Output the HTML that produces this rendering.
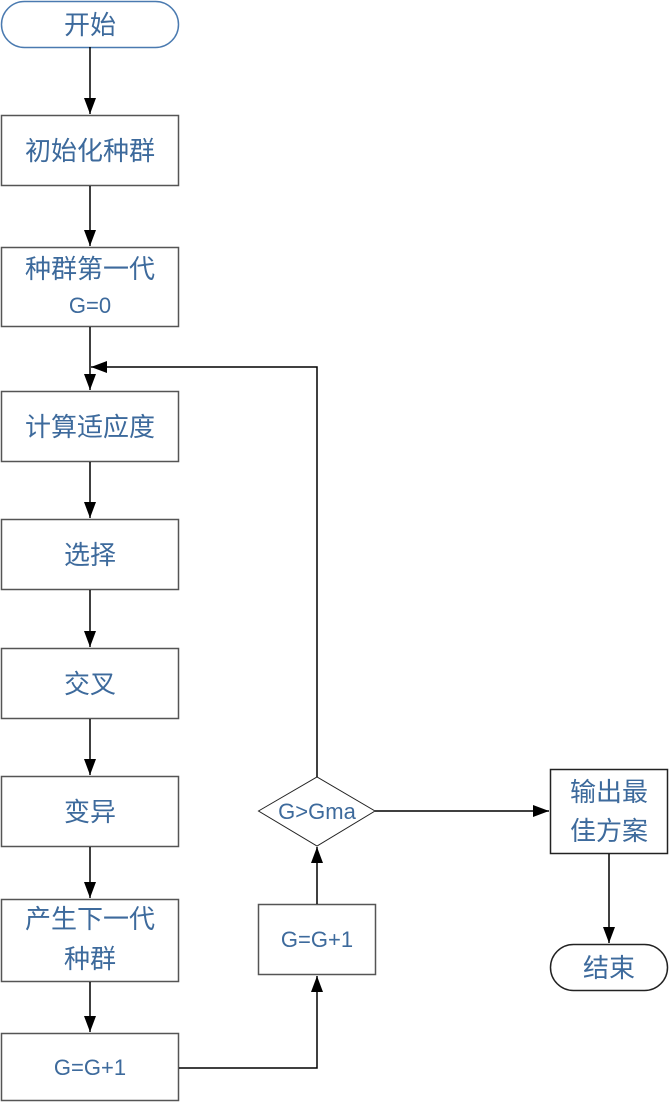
<!DOCTYPE html>
<html><head><meta charset="utf-8"><style>
html,body{margin:0;padding:0;background:#fff;}
svg text{font-family:"Liberation Sans","Noto Sans CJK SC",sans-serif;fill:#3d6a9c;text-anchor:middle;}
</style></head><body>
<svg width="669" height="1105" viewBox="0 0 669 1105" xmlns="http://www.w3.org/2000/svg">
<defs><marker id="a" markerWidth="10" markerHeight="10" refX="9" refY="5" orient="auto" markerUnits="userSpaceOnUse"><path d="M0,0 L10,5 L0,10 z" fill="#000"/></marker>
<marker id="b" markerWidth="16" markerHeight="12" refX="16" refY="6" orient="auto" markerUnits="userSpaceOnUse"><path d="M0,0 L16,6 L0,12 z" fill="#000"/></marker></defs>
<g fill="#fff" stroke-width="1.5">
<rect x="1.5" y="1.5" width="177" height="46" rx="23" stroke="#4a7ab0"/>
<rect x="1.5" y="115.5" width="177" height="70" stroke="#555"/>
<rect x="1.5" y="247.5" width="177" height="79" stroke="#555"/>
<rect x="1.5" y="391.5" width="177" height="70" stroke="#555"/>
<rect x="1.5" y="519.5" width="177" height="70" stroke="#555"/>
<rect x="1.5" y="648.5" width="177" height="70" stroke="#555"/>
<rect x="1.5" y="776.5" width="177" height="70" stroke="#555"/>
<rect x="1.5" y="899.5" width="177" height="82" stroke="#555"/>
<rect x="1.5" y="1033.5" width="177" height="67" stroke="#555"/>
<rect x="258.5" y="904.5" width="117" height="70" stroke="#555"/>
<polygon points="258.5,811 317,777 375,811 317,846" stroke="#222" stroke-width="1"/>
<rect x="550.5" y="769.5" width="117" height="84" stroke="#222"/>
<rect x="550.5" y="944.5" width="117" height="46" rx="23" stroke="#222"/>
</g>
<g stroke="#000" stroke-width="1.5" fill="none">
<line x1="90" y1="47" x2="90" y2="114" marker-end="url(#b)"/>
<line x1="90" y1="186" x2="90" y2="246" marker-end="url(#b)"/>
<line x1="90" y1="327" x2="90" y2="390" marker-end="url(#b)"/>
<line x1="90" y1="462" x2="90" y2="518" marker-end="url(#b)"/>
<line x1="90" y1="590" x2="90" y2="647" marker-end="url(#b)"/>
<line x1="90" y1="719" x2="90" y2="775" marker-end="url(#b)"/>
<line x1="90" y1="847" x2="90" y2="898" marker-end="url(#b)"/>
<line x1="90" y1="982" x2="90" y2="1032" marker-end="url(#b)"/>
<polyline points="179,1068 317,1068 317,976" marker-end="url(#b)"/>
<line x1="317" y1="904" x2="317" y2="847" marker-end="url(#b)"/>
<polyline points="317,777 317,367 91,367" marker-end="url(#b)"/>
<line x1="375" y1="811" x2="549" y2="811" marker-end="url(#b)"/>
<line x1="609" y1="854" x2="609" y2="943" marker-end="url(#b)"/>
</g>
<g font-size="26">
<text x="90" y="34">开始</text>
<text x="90" y="160">初始化种群</text>
<text x="90" y="278">种群第一代</text>
<text x="90" y="436">计算适应度</text>
<text x="90" y="564">选择</text>
<text x="90" y="693">交叉</text>
<text x="90" y="821">变异</text>
<text x="90" y="928">产生下一代</text>
<text x="90" y="968">种群</text>
<text x="609" y="801">输出最</text>
<text x="609" y="840">佳方案</text>
<text x="609" y="977">结束</text>
</g>
<g font-size="22">
<text x="90" y="313">G=0</text>
<text x="90" y="1075">G=G+1</text>
<text x="317" y="947">G=G+1</text>
<text x="317" y="819">G&gt;Gma</text>
</g>
</svg>
</body></html>
